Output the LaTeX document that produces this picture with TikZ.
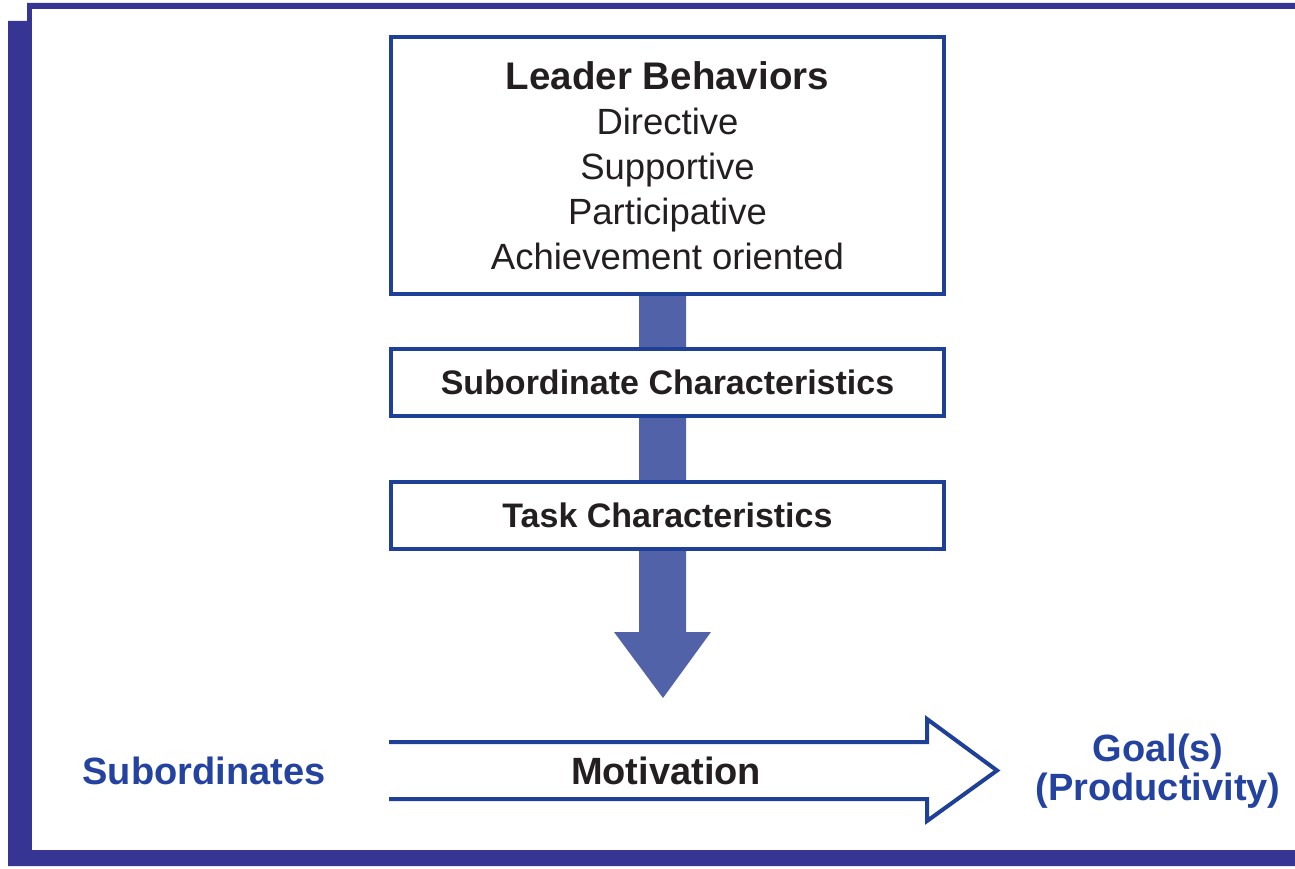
\documentclass[tikz,border=0pt]{standalone}
\usepackage{fontspec}
\setmainfont{Liberation Sans}
\usetikzlibrary{backgrounds,calc}
\definecolor{framec}{HTML}{363594}
\definecolor{boxc}{HTML}{1E4096}
\definecolor{arrowc}{HTML}{5262A8}
\definecolor{labc}{HTML}{2443A0}
\definecolor{txt}{HTML}{231F20}
\tikzset{
  boxnode/.style={draw=boxc, line width=4pt, fill=white, minimum width=553pt, text=txt, inner sep=0pt},
  bigarrow/.style={fill=arrowc},
  openarrow/.style={draw=boxc, line width=4pt, line join=miter},
  bluelab/.style={text=labc, font=\fontsize{38}{39}\selectfont\bfseries, align=center, inner sep=0pt},
}
\begin{document}
\begin{tikzpicture}[x=1pt,y=-1pt]
\useasboundingbox (0,0) rectangle (1295,869);
% frame
\begin{scope}[on background layer]
\fill[framec] (8,21) -- (27,21) -- (27,3) -- (1295,3) -- (1295,866) -- (8,866) -- cycle;
\fill[white] (32,9) rectangle (1295,850);
\end{scope}
% boxes
\node[boxnode, minimum height=257pt, align=center, font=\fontsize{36.5}{45}\selectfont] (leader) at (667.5,165.5)
  {{\fontsize{38.5}{45}\selectfont\bfseries Leader Behaviors}\\ Directive\\ Supportive\\ Participative\\ Achievement oriented};
\node[boxnode, minimum height=67pt, font=\fontsize{34}{36}\selectfont\bfseries] (sub) at (667.5,382.5) {Subordinate Characteristics};
\node[boxnode, minimum height=67pt, font=\fontsize{34}{36}\selectfont\bfseries] (task) at (667.5,515.5) {Task Characteristics};
% big down arrow behind boxes
\begin{scope}[on background layer]
\fill[bigarrow] ([xshift=-28.5pt]leader.south) -- ([xshift=18.5pt]leader.south)
  -- ([xshift=18.5pt,yshift=-81pt]task.south) -- ([xshift=43.5pt,yshift=-81pt]task.south)
  -- ([xshift=-4.5pt,yshift=-147pt]task.south) coordinate (tip)
  -- ([xshift=-53.5pt,yshift=-81pt]task.south) -- ([xshift=-28.5pt,yshift=-81pt]task.south) -- cycle;
\end{scope}
% motivation arrow
\node[text=txt, font=\fontsize{38}{40}\selectfont\bfseries, inner sep=0pt] (mot) at (666,771) {Motivation};
\coordinate (mstart) at (389,770.5);
\coordinate (mtip) at (997,770.5);
\draw[openarrow] ([yshift=-28.5pt]mstart) -- ([xshift=-70pt,yshift=-28.5pt]mtip) -- ([xshift=-70pt,yshift=-50.5pt]mtip)
  -- (mtip) -- ([xshift=-70pt,yshift=51.5pt]mtip) -- ([xshift=-70pt,yshift=28.5pt]mtip) -- ([yshift=28.5pt]mstart);
\node[bluelab] (subs) at (204,771) {Subordinates};
\node[bluelab] (goal) at (1158,771) {Goal(s)\\(Productivity)};
\end{tikzpicture}
\end{document}
